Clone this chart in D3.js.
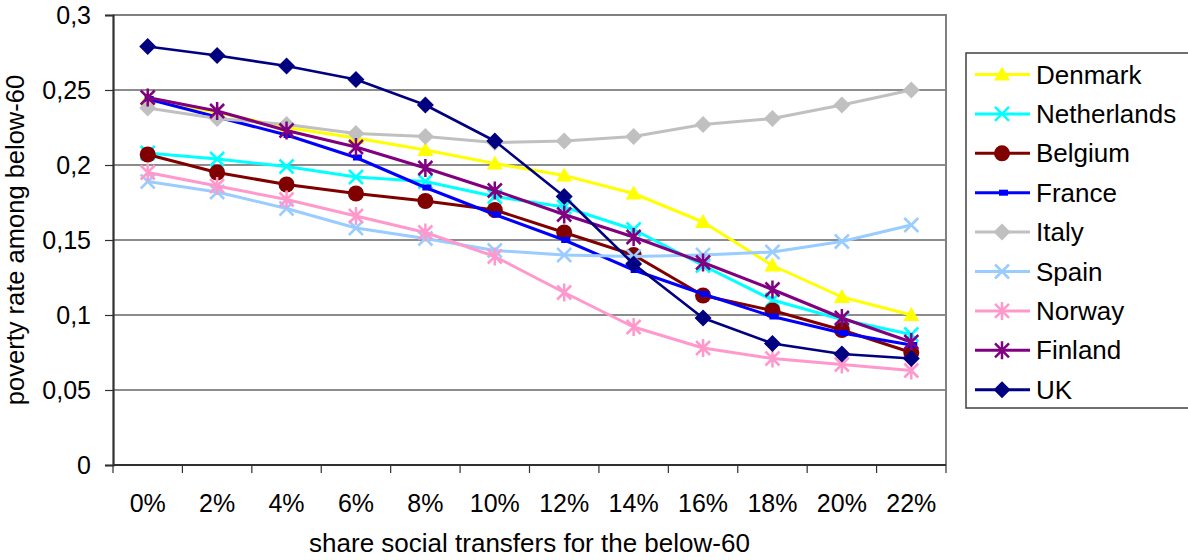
<!DOCTYPE html>
<html>
<head>
<meta charset="utf-8">
<script src="https://cdn.jsdelivr.net/npm/d3@7"></script>
<style>
  html, body { margin: 0; padding: 0; background: #fff; }
  svg { display: block; font-family: "Liberation Sans", Arial, sans-serif; }
</style>
</head>
<body>
<svg id="chart" width="1188" height="560"></svg>
<script>
// ---- data ----
const categories = ["0%","2%","4%","6%","8%","10%","12%","14%","16%","18%","20%","22%"];
const yTickValues = [0, 0.05, 0.1, 0.15, 0.2, 0.25, 0.3];
const yTickLabels = ["0", "0,05", "0,1", "0,15", "0,2", "0,25", "0,3"];

const denmark     = [0.244, 0.235, 0.225, 0.218, 0.210, 0.201, 0.193, 0.181, 0.162, 0.133, 0.112, 0.100];
const netherlands = [0.208, 0.204, 0.199, 0.192, 0.189, 0.179, 0.172, 0.157, 0.133, 0.110, 0.097, 0.087];
const belgium     = [0.207, 0.195, 0.187, 0.181, 0.176, 0.170, 0.155, 0.140, 0.113, 0.103, 0.090, 0.075];
const france      = [0.244, 0.232, 0.220, 0.205, 0.185, 0.167, 0.150, 0.130, 0.114, 0.099, 0.088, 0.080];
const italy       = [0.238, 0.231, 0.227, 0.221, 0.219, 0.215, 0.216, 0.219, 0.227, 0.231, 0.240, 0.250];
const spain       = [0.189, 0.182, 0.171, 0.158, 0.151, 0.143, 0.140, 0.139, 0.140, 0.142, 0.149, 0.160];
const norway      = [0.195, 0.186, 0.177, 0.166, 0.155, 0.139, 0.115, 0.092, 0.078, 0.071, 0.067, 0.063];
const finland     = [0.245, 0.236, 0.223, 0.212, 0.198, 0.183, 0.167, 0.152, 0.135, 0.117, 0.098, 0.082];
const uk          = [0.279, 0.273, 0.266, 0.257, 0.240, 0.216, 0.179, 0.134, 0.098, 0.081, 0.074, 0.071];

const seriesNames  = ["Denmark","Netherlands","Belgium","France","Italy","Spain","Norway","Finland","UK"];
const seriesValues = [denmark, netherlands, belgium, france, italy, spain, norway, finland, uk];
const seriesColors = ["#FFFF00","#00FFFF","#800000","#0000FF","#C0C0C0","#99CCFF","#FF99CC","#800080","#000080"];
const seriesMarkers = ["triangle","x","circle","square","diamond","x","star","star","diamond"];

// ---- layout ----
const svg = d3.select("#chart");
const L = 113, R = 946, T = 15, B = 465;

const x = d3.scaleBand().domain(categories).range([L, R]).padding(0);
const y = d3.scaleLinear().domain([0, 0.3]).range([B, T]);

// gridlines
svg.append("g").selectAll("line").data(yTickValues.filter(v => v > 0 && v < 0.3)).join("line")
  .attr("x1", L).attr("x2", R)
  .attr("y1", d => y(d)).attr("y2", d => y(d))
  .attr("stroke", "#1a1a1a").attr("stroke-width", 1.2);

// plot frame (top, right grey)
svg.append("path")
  .attr("d", `M${L},${T}H${R}V${B}`)
  .attr("fill", "none").attr("stroke", "#808080").attr("stroke-width", 2);

// y axis
const yAxis = d3.axisLeft(y).tickValues(yTickValues)
  .tickFormat((d, i) => yTickLabels[i]).tickSize(8).tickPadding(14);
const gy = svg.append("g").attr("transform", `translate(${L},0)`).call(yAxis);
gy.select(".domain").attr("stroke", "#303030").attr("stroke-width", 2.2);
gy.selectAll(".tick line").attr("stroke", "#303030").attr("stroke-width", 1.2);
gy.selectAll(".tick text").attr("font-size", 25).attr("fill", "#000")
  .attr("font-family", "Liberation Sans, Arial, sans-serif");

// x axis: ticks at category boundaries
svg.append("line").attr("x1", L).attr("x2", R).attr("y1", B).attr("y2", B)
  .attr("stroke", "#303030").attr("stroke-width", 2.2);
const boundaries = categories.map(c => x(c)).concat([R]);
svg.append("g").selectAll("line").data(boundaries).join("line")
  .attr("x1", d => d).attr("x2", d => d).attr("y1", B).attr("y2", B + 8)
  .attr("stroke", "#303030").attr("stroke-width", 1.2);
svg.append("g").selectAll("text").data(categories).join("text")
  .attr("x", d => x(d) + x.bandwidth() / 2).attr("y", 512)
  .attr("text-anchor", "middle").attr("font-size", 25).attr("fill", "#000")
  .text(d => d);

// axis titles
svg.append("text").attr("x", (L + R) / 2).attr("y", 552)
  .attr("text-anchor", "middle").attr("font-size", 26).attr("fill", "#000")
  .text("share social transfers for the below-60");
svg.append("text").attr("transform", `translate(24,${(T + B) / 2}) rotate(-90)`)
  .attr("text-anchor", "middle").attr("font-size", 25.5).attr("fill", "#000")
  .text("poverty rate among below-60");

// marker drawing
function drawMarker(g, type, color) {
  if (type === "triangle") {
    g.append("path").attr("d", "M0,-8L8,6L-8,6Z").attr("fill", color);
  } else if (type === "circle") {
    g.append("circle").attr("r", 8).attr("fill", color);
  } else if (type === "diamond") {
    g.append("path").attr("d", "M0,-8.5L8.5,0L0,8.5L-8.5,0Z").attr("fill", color);
  } else if (type === "square") {
    g.append("rect").attr("x", -3).attr("y", -3).attr("width", 9).attr("height", 6).attr("fill", color);
  } else if (type === "x") {
    g.append("path").attr("d", "M-7,-7L7,7M-7,7L7,-7")
      .attr("stroke", color).attr("stroke-width", 2.5).attr("fill", "none");
  } else if (type === "star") {
    g.append("path").attr("d", "M-7,-7L7,7M-7,7L7,-7M0,-9V9")
      .attr("stroke", color).attr("stroke-width", 2.5).attr("fill", "none");
  }
}

const line = d3.line()
  .x((d, i) => x(categories[i]) + x.bandwidth() / 2)
  .y(d => y(d));

seriesValues.forEach((vals, s) => {
  const g = svg.append("g");
  g.append("path").attr("d", line(vals)).attr("fill", "none")
    .attr("stroke", seriesColors[s]).attr("stroke-width", s === 8 ? 2.6 : 3)
    .attr("stroke-linejoin", "round");
  vals.forEach((v, i) => {
    const m = g.append("g").attr("transform",
      `translate(${x(categories[i]) + x.bandwidth() / 2},${y(v)})`);
    drawMarker(m, seriesMarkers[s], seriesColors[s]);
  });
});

// legend
const lg = svg.append("g");
lg.append("rect").attr("x", 966).attr("y", 53).attr("width", 240).attr("height", 355)
  .attr("fill", "#fff").attr("stroke", "#404040").attr("stroke-width", 1.5);
seriesNames.forEach((name, s) => {
  const cy = 74.5 + s * 39.4;
  lg.append("line").attr("x1", 975).attr("x2", 1030).attr("y1", cy).attr("y2", cy)
    .attr("stroke", seriesColors[s]).attr("stroke-width", 3);
  const m = lg.append("g").attr("transform", `translate(1002,${cy})`);
  drawMarker(m, seriesMarkers[s], seriesColors[s]);
  lg.append("text").attr("x", 1036).attr("y", cy + 9).attr("font-size", 26)
    .attr("fill", "#000").text(name);
});
</script>
</body>
</html>
